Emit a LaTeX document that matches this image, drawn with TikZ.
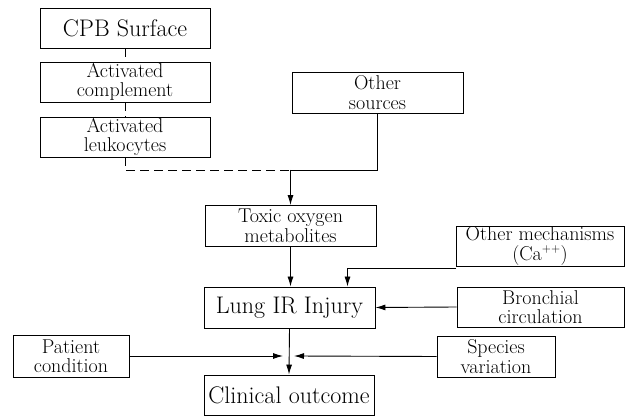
\documentclass[tikz,border=0pt]{standalone}
\usetikzlibrary{arrows.meta,calc}
\begin{document}
\begin{tikzpicture}[x=1pt,y=-1pt,
  box/.style={draw,line width=0.9pt,inner sep=0pt,align=center,minimum width=#1},
  big/.style={font=\fontsize{24}{26}\selectfont},
  small/.style={font=\fontsize{20}{19.5}\selectfont},
  conn/.style={line width=0.9pt},
  arr/.style={line width=0.9pt,-{Latex[length=10pt,width=6pt]}},
  dsh/.style={line width=0.9pt,dash pattern=on 9pt off 5pt}]
\useasboundingbox (0,0) rectangle (634,419);
% nodes
\node[box=170,big,minimum height=40] (cpb) at (125,28) {CPB Surface};
\node[box=170,small,minimum height=40] (comp) at (125,82) {Activated\\complement};
\node[box=170,small,minimum height=40] (leuk) at (125,137) {Activated\\leukocytes};
\node[box=171,small,minimum height=41] (osrc) at (377.5,92.5) {Other\\sources};
\node[box=171,small,minimum height=41] (tox) at (290.5,226) {Toxic oxygen\\metabolites};
\node[box=171,big,minimum height=41] (lung) at (289.5,307.5) {Lung IR Injury};
\node[box=170,big,minimum height=40] (clin) at (289,395) {Clinical outcome};
\node[box=168,small,minimum height=40] (omech) at (540,246) {Other mechanisms\\(Ca\textsuperscript{\fontsize{12}{12}\selectfont ++})};
\node[box=167,small,minimum height=40] (bron) at (540.5,307) {Bronchial\\circulation};
\node[box=116,small,minimum height=42] (pat) at (71,356) {Patient\\condition};
\node[box=118,small,minimum height=41] (spec) at (496,356.5) {Species\\variation};
\coordinate (j) at (290.5,170);
% connectors
\draw[dsh] (cpb.south) -- (comp.north);
\draw[dsh] (comp.south) -- (leuk.north);
\draw[dsh] (leuk.south) |- (j);
\draw[conn] (osrc.south) |- (j);
\draw[arr] (j) -- (tox.north);
\draw[arr] (tox.south) -- (tox.south |- lung.north);
\draw[arr] ([yshift=-2pt]omech.south west) -| ([xshift=58pt]lung.north);
\draw[arr] (bron.west) -- (lung.east);
\draw[arr] (lung.south) -- (clin.north);
\draw[arr] (pat.east) -- ([xshift=-6pt]clin.north |- pat.east);
\draw[arr] (spec.west) -- ([xshift=5pt]clin.north |- pat.east);
\end{tikzpicture}
\end{document}
